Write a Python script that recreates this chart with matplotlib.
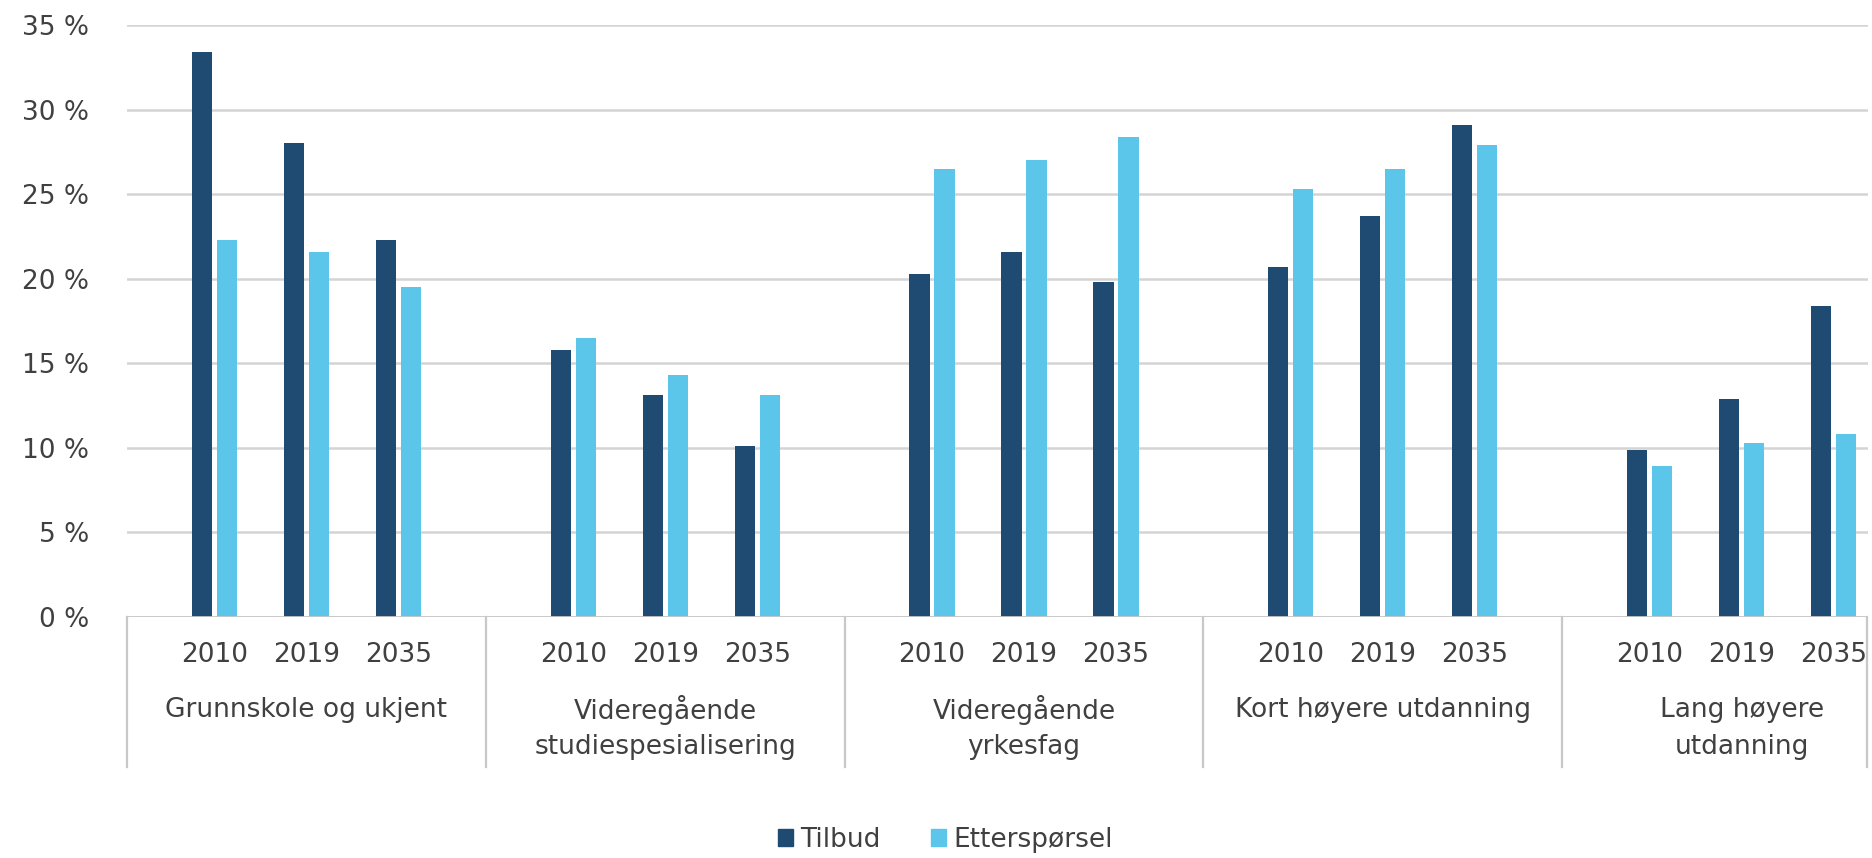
import matplotlib
matplotlib.use("Agg")
import matplotlib.pyplot as plt
from matplotlib.patches import Patch
import numpy as np

# education level groups and years
groups = ['Grunnskole og ukjent', 'Videregående\nstudiespesialisering',
          'Videregående\nyrkesfag', 'Kort høyere utdanning', 'Lang høyere\nutdanning']
years = ['2010', '2019', '2035']

# share in percent, ordered group by group, year by year
tilbud = [33.4, 28.0, 22.3, 15.8, 13.1, 10.1, 20.3, 21.6, 19.8,
          20.7, 23.7, 29.1, 9.9, 12.9, 18.4]
ettersporsel = [22.3, 21.6, 19.5, 16.5, 14.3, 13.1, 26.5, 27.0, 28.4,
                25.3, 26.5, 27.9, 8.9, 10.3, 10.8]

dark = '#1f4b72'
light = '#5bc5ea'
text_col = '#404040'
grid_col = '#d4d4d4'

W, H = 1872, 858
fig = plt.figure(figsize=(W / 100, H / 100), dpi=100)
ax = fig.add_axes([127 / W, 1 - 617 / H, (1868 - 127) / W, (617 - 25) / H])

pitch = 3.9   # width of one group in slot units
lead = 0.95   # first year position inside a group
x = np.array([g * pitch + lead + j for g in range(len(groups)) for j in range(len(years))])
bw = 0.22
off = 0.136

ax.bar(x - off, tilbud, width=bw, color=dark, zorder=3)
ax.bar(x + off, ettersporsel, width=bw, color=light, zorder=3)

xmax = 1741 / 92
ax.set_xlim(0, xmax)
ax.set_ylim(0, 35)
ax.set_yticks(range(0, 36, 5))
ax.set_yticklabels([f'{v} %' for v in range(0, 36, 5)], fontsize=19, color=text_col)
ax.tick_params(axis='y', length=0, pad=27)
ax.set_xticks([])
ax.yaxis.grid(True, color=grid_col, linewidth=1.8, zorder=0)
for s in ax.spines.values():
    s.set_visible(False)
ax.axhline(0, color='#c8c8c8', linewidth=2, zorder=4)

# multi level category axis
tr = ax.get_xaxis_transform()
px = 1 / 592
for i, xi in enumerate(x):
    ax.text(xi, -38 * px, years[i % 3], transform=tr, ha='center', va='center',
            fontsize=19, color=text_col)
for g, name in enumerate(groups):
    cx = g * pitch + pitch / 2
    for k, line in enumerate(name.split('\n')):
        ax.text(cx, -(93 + 37 * k) * px, line, transform=tr, ha='center', va='center',
                fontsize=19, color=text_col)
seps = [g * pitch for g in range(len(groups))] + [xmax - 0.01]
for sx in seps:
    ax.plot([sx, sx], [0, -150 * px], transform=tr, color='#c8c8c8',
            linewidth=1.6, clip_on=False)

handles = [Patch(color=dark, label='Tilbud'), Patch(color=light, label='Etterspørsel')]
fig.legend(handles=handles, loc='center', bbox_to_anchor=(945 / W, 1 - 840 / H), ncol=2,
           frameon=False, fontsize=19, handlelength=0.6, handleheight=0.6,
           handletextpad=0.25, columnspacing=1.9, labelcolor=text_col)

fig.savefig('out.png', dpi=100, facecolor='white')
